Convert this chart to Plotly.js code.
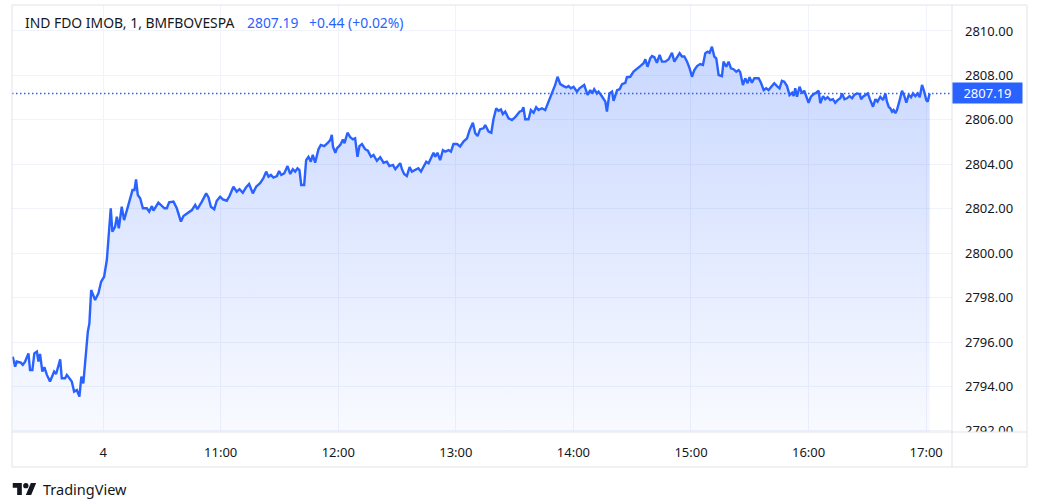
<!DOCTYPE html>
<html>
<head>
<meta charset="utf-8">
<script src="https://cdn.plot.ly/plotly-3.0.1.min.js"></script>
<style>
html,body{margin:0;padding:0;background:#ffffff;}
#chart{width:1055px;height:501px;}
</style>
</head>
<body>
<div id="chart"></div>
<script>
// ---- data (minutes relative to 10:00 on day 4; negatives = previous session) ----
var minutes = [
-46.1,-44.9,-44.1,-42.0,-41.0,-39.8,-38.1,-37.3,-36.1,-35.1,
-33.8,-33.0,-32.2,-31.0,-30.0,-28.7,-27.1,-25.0,-24.0,-21.9,
-21.1,-19.4,-18.5,-16.8,-16.0,-14.8,-13.4,-12.1,-11.1,-10.1,
-8.7,-7.8,-7.0,-6.1,-4.1,-2.4,-1.0,0.5,1.9,2.7,
3.9,4.7,6.1,7.0,8.0,9.5,10.7,12.9,15.0,16.0,
16.8,17.7,18.9,20.3,22.3,23.5,24.9,25.7,28.2,31.3,
32.5,33.7,35.9,37.6,39.7,
41.0,42.7,45.3,47.0,48.1,50.4,52.6,53.8,55.0,56.7,
58.0,59.7,61.1,63.1,64.5,66.5,68.2,69.6,71.3,73.0,
74.5,76.4,78.1,80.1,81.8,83.2,84.4,85.6,86.9,88.7,
89.8,90.9,92.4,94.1,95.5,96.8,98.0,99.2,100.2,101.1,
102.6,103.6,104.8,106.0,107.0,108.2,109.9,111.1,112.8,114.5,
115.9,116.7,117.3,118.5,119.3,121.0,122.4,123.2,124.7,126.1,
127.5,128.6,129.8,130.8,132.1,133.7,135.1,136.7,138.0,139.7,
141.4,143.1,144.8,146.1,147.9,149.1,150.2,151.6,152.5,153.6,
155.0,156.4,157.6,159.3,160.9,162.2,163.5,164.9,166.1,167.3,
168.6,169.5,170.6,172.0,173.4,174.6,176.3,177.5,178.8,180.6,
182.2,
183.9,185.7,187.0,188.7,189.9,191.1,192.4,194.1,195.0,196.7,
198.1,199.2,200.6,201.8,203.0,204.0,205.2,206.9,208.6,210.3,
212.5,213.7,214.5,215.4,217.1,218.3,219.7,221.0,222.2,223.9,
225.6,227.3,229.0,230.7,231.9,233.3,235.0,236.3,237.5,238.7,
240.1,241.8,243.1,244.4,245.5,247.2,248.6,249.5,250.6,252.0,
252.8,254.1,255.1,256.3,257.1,258.4,259.7,260.5,262.3,263.6,
264.8,266.5,267.3,269.0,270.7,272.4,274.1,275.8,276.7,277.8,
279.2,280.1,281.3,282.6,284.0,285.2,286.9,288.6,290.3,291.5,
292.9,294.2,295.4,296.6,298.0,299.3,300.5,301.7,303.1,304.7,
306.1,307.3,308.5,309.5,310.7,311.9,312.9,314.1,315.8,316.6,
318.0,319.2,320.4,321.7,323.1,324.3,325.1,
326.5,327.7,328.9,329.9,331.1,332.3,334.5,335.7,337.1,338.4,
339.6,341.3,342.5,343.9,345.2,346.4,347.6,349.0,350.3,351.6,
352.4,353.2,354.1,355.4,356.7,357.8,358.9,360.0,361.2,362.6,
363.9,365.1,366.0,367.4,368.5,369.7,371.1,372.4,373.6,374.8,
376.2,377.1,378.3,379.6,380.9,382.2,383.3,384.7,386.1,386.8,
387.8,389.0,390.2,391.5,392.9,394.1,395.2,396.6,398.0,399.2,
400.0,400.9,401.7,402.6,403.4,404.3,405.1,406.5,407.7,408.9,
409.9,411.1,412.3,413.3,414.5,415.7,416.7,417.9,418.8,420.1,
420.8,421.8
];
var prices = [
2795.34,2794.89,2795.12,2795.07,2794.97,2795.12,2795.49,2794.74,2794.74,2795.49,
2795.57,2795.12,2795.46,2794.67,2794.87,2794.52,2794.22,2794.67,2794.56,2795.22,
2794.37,2794.37,2794.52,2794.29,2794.22,2793.77,2793.84,2793.54,2794.44,2794.14,
2795.72,2796.47,2796.84,2798.34,2797.89,2798.19,2798.72,2798.94,2799.69,2800.59,
2802.02,2800.97,2801.19,2801.64,2801.12,2802.09,2801.49,2802.17,2802.84,2802.84,
2803.32,2802.62,2802.47,2802.02,2802.02,2801.87,2802.12,2801.91,2802.27,2802.02,
2802.02,2802.29,2802.32,2802.02,2801.42,
2801.67,2801.79,2801.94,2802.17,2801.98,2802.32,2802.69,2802.51,2802.09,2801.98,
2802.36,2802.54,2802.42,2802.36,2802.57,2802.99,2802.77,2802.88,2802.72,2802.97,
2803.11,2802.69,2802.99,2803.15,2803.37,2803.67,2803.44,2803.52,2803.40,2803.47,
2803.70,2803.52,2803.59,2803.92,2803.56,2803.78,2803.67,2803.82,2803.74,2803.07,
2803.07,2804.19,2804.34,2804.12,2804.42,2804.07,2804.68,2804.87,2804.82,2804.95,
2805.09,2805.32,2804.79,2804.52,2804.72,2804.87,2805.12,2804.95,2805.42,2805.22,
2805.12,2805.17,2804.34,2804.82,2804.91,2804.68,2804.61,2804.34,2804.42,2804.16,
2804.32,2804.07,2804.12,2803.92,2803.97,2803.78,2803.92,2804.05,2803.78,2803.56,
2803.47,2803.87,2803.67,2803.74,2803.82,2803.67,2803.89,2804.12,2804.05,2804.27,
2804.52,2804.34,2804.52,2804.19,2804.64,2804.57,2804.64,2804.57,2804.91,2804.91,
2804.80,
2805.02,2805.17,2805.54,2805.87,2805.40,2805.27,2805.58,2805.62,2805.77,2805.47,
2805.42,2806.03,2806.52,2806.41,2806.47,2806.26,2806.37,2806.07,2805.99,2806.12,
2806.37,2806.41,2806.57,2806.03,2806.03,2806.44,2806.32,2806.57,2806.44,2806.52,
2806.44,2806.82,2807.19,2807.57,2807.94,2807.61,2807.52,2807.46,2807.52,2807.42,
2807.49,2807.27,2807.42,2807.52,2807.57,2807.12,2807.34,2807.19,2807.38,2807.19,
2807.27,2807.12,2806.97,2806.82,2806.37,2807.19,2807.27,2806.86,2807.34,2807.38,
2807.61,2807.67,2807.92,2807.94,2808.17,2808.28,2808.42,2808.55,2808.73,2808.39,
2808.77,2808.87,2808.82,2808.57,2808.92,2808.62,2808.62,2808.73,2809.02,2808.62,
2808.85,2809.00,2808.85,2808.85,2808.62,2808.32,2807.94,2808.24,2808.42,2808.51,
2808.47,2809.00,2809.07,2809.02,2809.29,2808.85,2808.77,2808.02,2807.97,2808.62,
2808.39,2808.62,2808.32,2808.28,2808.17,2808.24,2808.15,
2807.57,2807.87,2807.65,2807.92,2807.67,2807.87,2807.87,2807.67,2807.34,2807.42,
2807.34,2807.52,2807.65,2807.52,2807.42,2807.76,2807.72,2807.52,2807.12,2807.22,
2807.07,2807.42,2807.04,2807.49,2807.19,2807.31,2807.04,2806.77,2807.04,2807.16,
2807.22,2807.31,2806.75,2807.07,2806.93,2807.02,2806.89,2806.93,2806.77,2806.89,
2806.97,2807.19,2806.93,2806.97,2807.07,2806.97,2807.12,2807.19,2807.16,2806.93,
2807.04,2807.12,2807.19,2806.89,2806.59,2806.93,2806.82,2807.04,2806.89,2807.19,
2806.82,2806.59,2806.52,2806.37,2806.44,2806.30,2806.44,2806.89,2807.31,2807.07,
2806.77,2807.12,2807.02,2807.19,2807.07,2807.19,2807.02,2807.57,2807.34,2806.89,
2806.82,2807.19
];
var tickMinutes = [0, 60, 120, 180, 240, 300, 360, 420];
var tickLabels  = ["4", "11:00", "12:00", "13:00", "14:00", "15:00", "16:00", "17:00"];
var symbolLabel = "IND FDO IMOB, 1, BMFBOVESPA";
var changeLabel = "+0.44 (+0.02%)";

// ---- chart ----
var BLUE = "#2962ff";
var TXT = "#131722";
var BORDER = "#e0e3eb";
var GRID = "#f0f3fa";
var FONT = "Noto Sans, Roboto, sans-serif";

var last = prices[prices.length - 1];
var yMin = 2791.95, yMax = 2811.17;
var pMax = Math.max.apply(null, prices);

var trace = {
  x: minutes, y: prices, type: "scatter", mode: "lines",
  line: {color: BLUE, width: 2.4},
  fill: "tozeroy",
  fillgradient: {
    type: "vertical",
    start: yMin, stop: pMax,
    colorscale: [[0, "rgba(41,98,255,0.03)"], [1, "rgba(41,98,255,0.25)"]]
  },
  hoverinfo: "skip"
};

// frame geometry (paper units)
var W = 940, H = 427;
var axR = (1027 - 12) / W;
var axB = (432 - 467) / H;

var logoSvg = '<svg xmlns="http://www.w3.org/2000/svg" viewBox="0 4 36 18">' +
  '<path fill="#131722" d="M14 22H7V11H0V4h14v18zM28 22h-8l7.5-18h8L28 22z"/>' +
  '<circle fill="#131722" cx="20" cy="8" r="4"/></svg>';

var layout = {
  width: 1055, height: 501,
  margin: {l: 12, r: 103, t: 5, b: 69, pad: 0},
  paper_bgcolor: "#ffffff", plot_bgcolor: "#ffffff",
  showlegend: false,
  font: {family: FONT, size: 13, color: TXT},
  xaxis: {
    range: [-46.5, 433.2],
    tickmode: "array", tickvals: tickMinutes, ticktext: tickLabels,
    showgrid: true, gridcolor: GRID, gridwidth: 1,
    zeroline: false, showline: false, ticks: "",
    tickfont: {family: FONT, size: 13, color: TXT},
    ticklabelstandoff: 11,
    fixedrange: true
  },
  yaxis: {
    side: "right",
    range: [yMin, yMax],
    tick0: 2792, dtick: 2, tickformat: ".2f",
    showgrid: true, gridcolor: GRID, gridwidth: 1,
    zeroline: false, showline: false, ticks: "",
    tickfont: {family: FONT, size: 13, color: TXT},
    ticklabelstandoff: 12,
    fixedrange: true
  },
  shapes: [
    {type: "line", xref: "paper", yref: "y", x0: 0, x1: 1, y0: last, y1: last,
     line: {color: BLUE, width: 1.5, dash: "1.5px,2.5px"}, layer: "above"},
    {type: "rect", xref: "paper", yref: "paper", x0: 1, x1: axR, y0: axB, y1: 0,
     fillcolor: "#ffffff", line: {width: 0}, layer: "above"},
    {type: "rect", xref: "paper", yref: "paper", x0: 0, x1: axR, y0: axB, y1: 1,
     line: {color: BORDER, width: 1}, fillcolor: "rgba(0,0,0,0)", layer: "above"},
    {type: "line", xref: "paper", yref: "paper", x0: 0, x1: axR, y0: 0, y1: 0,
     line: {color: BORDER, width: 1}, layer: "above"},
    {type: "line", xref: "paper", yref: "paper", x0: 1, x1: 1, y0: axB, y1: 1,
     line: {color: BORDER, width: 1}, layer: "above"}
  ],
  annotations: [
    {xref: "paper", yref: "paper", x: (23 - 12) / W, y: 1 - (22 - 5) / H,
     xanchor: "left", yanchor: "middle", showarrow: false,
     text: symbolLabel, font: {family: FONT, size: 13.9, color: TXT}},
    {xref: "paper", yref: "paper", x: (245 - 12) / W, y: 1 - (22 - 5) / H,
     xanchor: "left", yanchor: "middle", showarrow: false,
     text: last.toFixed(2), font: {family: FONT, size: 13.9, color: BLUE}},
    {xref: "paper", yref: "paper", x: (307 - 12) / W, y: 1 - (22 - 5) / H,
     xanchor: "left", yanchor: "middle", showarrow: false,
     text: changeLabel, font: {family: FONT, size: 13.9, color: BLUE}},
    {xref: "paper", yref: "y", x: 1, y: last, xanchor: "left", yanchor: "middle",
     showarrow: false, text: last.toFixed(2), bgcolor: BLUE, borderpad: 1,
     width: 67, height: 18, align: "center",
     font: {family: FONT, size: 13, color: "#ffffff"}},
    {xref: "paper", yref: "paper", x: (41 - 12) / W, y: (432 - 489) / H,
     xanchor: "left", yanchor: "middle", showarrow: false,
     text: "TradingView", font: {family: FONT, size: 14.5, color: TXT}}
  ],
  images: [
    {source: "data:image/svg+xml;utf8," + encodeURIComponent(logoSvg),
     xref: "paper", yref: "paper", x: (12.5 - 12) / W, y: (432 - 483) / H,
     sizex: 24 / W, sizey: 12 / H, sizing: "stretch",
     xanchor: "left", yanchor: "top", layer: "above"}
  ]
};

Plotly.newPlot("chart", [trace], layout, {staticPlot: true, displayModeBar: false});
</script>
</body>
</html>
